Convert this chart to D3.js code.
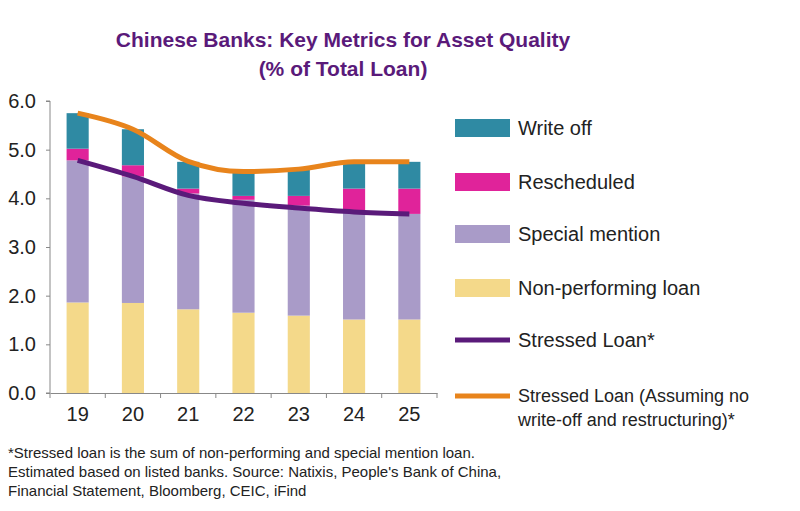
<!DOCTYPE html><html><head><script src="https://cdn.jsdelivr.net/npm/d3@7"></script>
<style>body{margin:0;background:#fff}text{font-family:"Liberation Sans",Arial,sans-serif}</style></head><body><svg width="800" height="511"></svg><script>
const years=["19","20","21","22","23","24","25"];
const npl=[1.86,1.85,1.72,1.65,1.59,1.51,1.51];
const special=[2.92,2.6,2.38,2.32,2.26,2.21,2.17];
const resched=[0.24,0.23,0.1,0.08,0.2,0.48,0.52];
const writeoff=[0.73,0.74,0.55,0.5,0.55,0.55,0.55];
const stressed=[4.78,4.45,4.06,3.9,3.8,3.72,3.68];
const stressedAll=[5.75,5.42,4.76,4.55,4.6,4.75,4.75];
const yTicks=[0,1,2,3,4,5,6];
const svg=d3.select("svg");
const x=d3.scaleBand().domain(years).range([50,437]).paddingInner(0.6).paddingOuter(0.3);
const y=d3.scaleLinear().domain([0,6]).range([393,101]);
const cols=["#f4d98a","#a99bc8","#e0239a","#2f8aa3"];
const series=[npl,special,resched,writeoff];
years.forEach((yr,i)=>{let b=0;series.forEach((s,k)=>{svg.append("rect").attr("x",x(yr)).attr("width",x.bandwidth()).attr("y",y(b+s[i])).attr("height",y(b)-y(b+s[i])).attr("fill",cols[k]);b+=s[i];});});
const ax=svg.append("g").attr("transform","translate(50,0)").call(d3.axisLeft(y).tickValues(yTicks).tickSize(4).tickPadding(10));
const bx=svg.append("g").attr("transform","translate(0,393)").call(d3.axisBottom(x).tickSize(0).tickPadding(14));
[ax,bx].forEach(g=>{g.selectAll("path,line").attr("stroke","#888");g.selectAll("text").attr("font-size",20).attr("fill","#222");});
ax.select(".domain").attr("d","M-4,101H0V393H-4");
const step=x.step();
years.concat(["26"]).forEach((d,i)=>{const xx=50+i*step;svg.append("line").attr("x1",xx).attr("x2",xx).attr("y1",393).attr("y2",398).attr("stroke","#888");});
const line=d3.line().x((d,i)=>x(years[i])+x.bandwidth()/2).y(d=>y(d)).curve(d3.curveMonotoneX);
svg.append("path").attr("d",line(stressedAll)).attr("fill","none").attr("stroke","#e8841c").attr("stroke-width",5);
svg.append("path").attr("d",line(stressed)).attr("fill","none").attr("stroke","#5a1a7a").attr("stroke-width",5);
const t=svg.append("text").attr("text-anchor","middle").attr("fill","#5a1a7a").attr("font-weight","bold").attr("font-size",21);
t.append("tspan").attr("x",343).attr("y",47).text("Chinese Banks: Key Metrics for Asset Quality");
t.append("tspan").attr("x",343).attr("y",76).text("(% of Total Loan)");
const leg=[["Write off",cols[3],"r",128],["Rescheduled",cols[2],"r",182],["Special mention",cols[1],"r",234],["Non-performing loan",cols[0],"r",288],["Stressed Loan*","#5a1a7a","l",340]];
leg.forEach(([n,c,t2,yy])=>{if(t2=="r")svg.append("rect").attr("x",455).attr("y",yy-9).attr("width",55).attr("height",18).attr("fill",c);else svg.append("line").attr("x1",455).attr("x2",510).attr("y1",yy).attr("y2",yy).attr("stroke",c).attr("stroke-width",5);
svg.append("text").attr("x",518).attr("y",yy+7).attr("font-size",20).attr("fill","#222").text(n);});
svg.append("line").attr("x1",455).attr("x2",510).attr("y1",396).attr("y2",396).attr("stroke","#e8841c").attr("stroke-width",5);
const l2=svg.append("text").attr("font-size",18).attr("fill","#222");
l2.append("tspan").attr("x",518).attr("y",402).text("Stressed Loan (Assuming no");
l2.append("tspan").attr("x",518).attr("y",426).text("write-off and restructuring)*");
const f=svg.append("text").attr("font-size",15).attr("fill","#222");
["*Stressed loan is the sum of non-performing and special mention loan.","Estimated based on listed banks. Source: Natixis, People's Bank of China,","Financial Statement, Bloomberg, CEIC, iFind"].forEach((s,i)=>f.append("tspan").attr("x",8).attr("y",458+i*19).text(s));
</script></body></html>
